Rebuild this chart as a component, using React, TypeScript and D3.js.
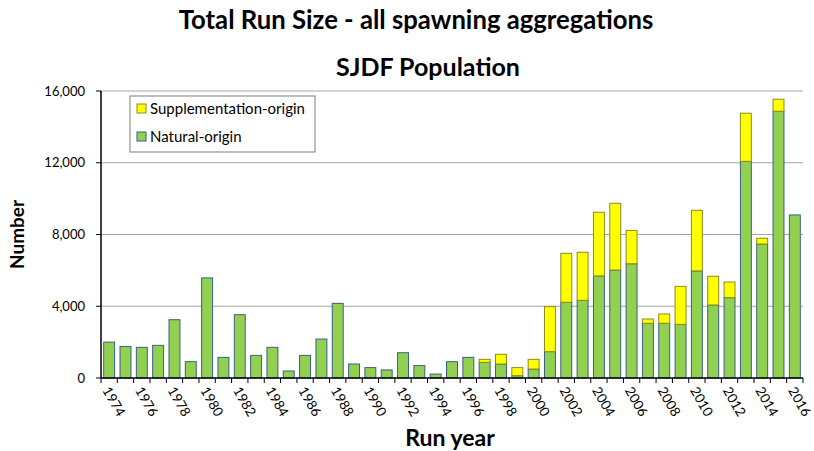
import React from "react";
import * as d3 from "d3";

const years: number[] = d3.range(1974, 2017);
const naturalOrigin: number[] = [
  2000, 1760, 1710, 1820, 3250, 910, 5580, 1150, 3530, 1260,
  1710, 390, 1260, 2170, 4160, 780, 580, 450, 1410, 690,
  220, 910, 1150, 870, 780, 130, 500, 1470, 4220, 4330,
  5690, 6020, 6370, 3050, 3050, 2990, 5970, 4070, 4480, 12080,
  7470, 14870, 9090,
];
const supplementationOrigin: number[] = [
  0, 0, 0, 0, 0, 0, 0, 0, 0, 0,
  0, 0, 0, 0, 0, 0, 0, 0, 0, 0,
  0, 0, 0, 170, 540, 450, 540, 2510, 2730, 2680,
  3550, 3720, 1860, 240, 520, 2120, 3380, 1600, 870, 2680,
  320, 670, 0,
];
const yTicks: number[] = [0, 4000, 8000, 12000, 16000];
const seriesNames: string[] = ["Supplementation-origin", "Natural-origin"];

const W = 814;
const H = 451;
const left = 101;
const right = 803;
const top = 91;
const bottom = 378;
const FONT = "Lato, 'Open Sans', sans-serif";

export default function App() {
  const x = d3.scaleBand<number>().domain(years).range([left, right]).paddingInner(0.33).paddingOuter(0.165);
  const y = d3.scaleLinear().domain([0, 16000]).range([bottom, top]);
  const fmt = d3.format(",");
  const step = x.step();
  const boundaries = d3.range(0, years.length + 1).map((i) => left + i * step);

  return (
    <svg width={W} height={H} style={{ position: "absolute", left: 0, top: 0 }}>
      <rect width={W} height={H} fill="#ffffff" />
      <text x={416} y={29} textAnchor="middle" fontFamily={FONT} fontWeight="bold" fontSize={25.7}>
        Total Run Size - all spawning aggregations
      </text>
      <text x={428} y={76} textAnchor="middle" fontFamily={FONT} fontWeight="bold" fontSize={25}>
        SJDF Population
      </text>
      {yTicks.map((t) => (
        <g key={t}>
          {t > 0 && <line x1={left} x2={right} y1={y(t)} y2={y(t)} stroke="#a6a6a6" strokeWidth={1} />}
          <line x1={left - 5} x2={left} y1={y(t)} y2={y(t)} stroke="#000" />
          <text x={left - 16} y={y(t)} dy="0.35em" textAnchor="end" fontFamily={FONT} fontSize={13}>
            {fmt(t)}
          </text>
        </g>
      ))}
      {years.map((yr, i) => {
        const n = naturalOrigin[i];
        const s = supplementationOrigin[i];
        const bx = x(yr) as number;
        const bw = x.bandwidth();
        return (
          <g key={yr}>
            <rect x={bx} y={y(n)} width={bw} height={y(0) - y(n)} fill="#92d050" stroke="#3a5f8a" strokeWidth={1} />
            {s > 0 && (
              <rect x={bx} y={y(n + s)} width={bw} height={y(n) - y(n + s)} fill="#ffff00" stroke="#8c8c1e" strokeWidth={1} />
            )}
          </g>
        );
      })}
      <line x1={left} x2={left} y1={top} y2={bottom} stroke="#000" strokeWidth={1.5} />
      <line x1={left} x2={right} y1={bottom} y2={bottom} stroke="#000" strokeWidth={1.5} />
      {boundaries.map((bx, i) => (
        <line key={i} x1={bx} x2={bx} y1={bottom} y2={bottom + 5} stroke="#000" />
      ))}
      {years.map((yr) =>
        (yr - 1974) % 2 === 0 ? (
          <text
            key={yr}
            transform={`translate(${(x(yr) as number) + x.bandwidth() / 2 - 3},${bottom + 10}) rotate(60)`}
            fontFamily={FONT}
            fontSize={13.5}
            dy="0.35em"
          >
            {yr}
          </text>
        ) : null
      )}
      <text x={450} y={446} textAnchor="middle" fontFamily={FONT} fontWeight="bold" fontSize={23}>
        Run year
      </text>
      <text transform={`translate(24,${(top + bottom) / 2}) rotate(-90)`} textAnchor="middle" fontFamily={FONT} fontWeight="bold" fontSize={19}>
        Number
      </text>
      <g>
        <rect x={130} y={96} width={185} height={56} fill="#fff" stroke="#7f7f7f" strokeWidth={1} />
        {seriesNames.map((name, i) => (
          <g key={name} transform={`translate(137,${109 + i * 28})`}>
            <rect x={0} y={-5} width={9} height={9} fill={i === 0 ? "#ffff00" : "#92d050"} stroke={i === 0 ? "#8c8c1e" : "#3a5f8a"} />
            <text x={13} y={0} dy="0.35em" fontFamily={FONT} fontSize={15}>
              {name}
            </text>
          </g>
        ))}
      </g>
    </svg>
  );
}
